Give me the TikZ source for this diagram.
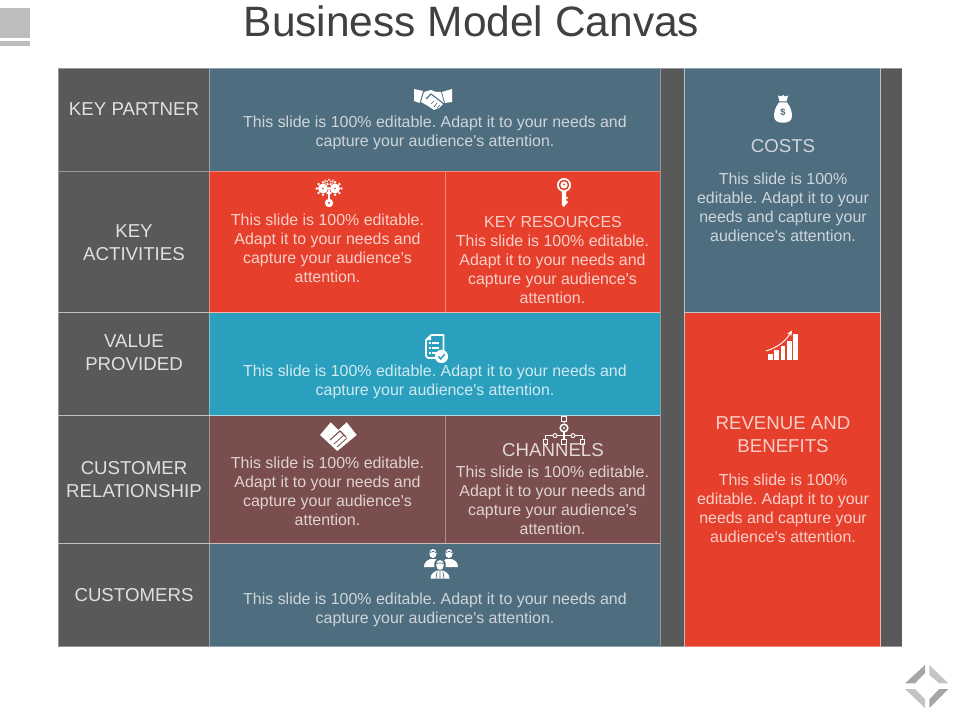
\documentclass[tikz,border=0pt]{standalone}
\usepackage{fontspec}
\setmainfont{Liberation Sans}
\newfontfamily\bodyf{Liberation Sans}
\usetikzlibrary{arrows.meta}
\definecolor{darkc}{HTML}{595959}
\definecolor{slatec}{HTML}{4E6D7E}
\definecolor{redc}{HTML}{E6402C}
\definecolor{tealc}{HTML}{2AA0BE}
\definecolor{brownc}{HTML}{7A4E4D}
\definecolor{titlec}{HTML}{404040}
\tikzset{
  cellbox/.style={draw=white,draw opacity=0.38,line width=0.75pt,inner sep=0pt,outer sep=0pt,anchor=north west},
  txtnode/.style={inner sep=0pt,outer sep=0pt,align=center,font=\bodyf\frenchspacing\fontsize{11.95}{14.3}\selectfont},
  headnode/.style={inner sep=0pt,outer sep=0pt,align=center,font=\bodyf\fontsize{14}{17.25}\selectfont},
  lblnode/.style={headnode,text=white!88!black},
  onslate/.style={text=white!72!slatec},
  onred/.style={text=white!75!redc},
  onteal/.style={text=white!78!tealc},
  onbrown/.style={text=white!75!brownc},
  ico/.style={fill=white,draw=none},
}
\newcommand{\cellat}[6]{\node[cellbox,fill=#6,minimum width=#4*0.75pt,minimum height=#5*0.75pt] (#1) at (#2,{#3+0.5}) {};}
\begin{document}
\begin{tikzpicture}[x=0.75pt,y=-0.75pt]
\useasboundingbox (0,0) rectangle (960,720);
\fill[white] (0,0) rectangle (960,720);
% top-left ornament
\fill[black!26] (0,8) rectangle (30,38);
\fill[black!26] (0,41) rectangle (30,46);
% title
\node[inner sep=0pt,text=titlec,font=\bodyf\fontsize{31.85}{38}\selectfont] (title) at (471.5,21) {Business Model Canvas};
% grid
\cellat{lbl1}{58}{68}{151}{103}{darkc}
\cellat{lbl2}{58}{171}{151}{141}{darkc}
\cellat{lbl3}{58}{312}{151}{103}{darkc}
\cellat{lbl4}{58}{415}{151}{128}{darkc}
\cellat{lbl5}{58}{543}{151}{103}{darkc}
\cellat{partner}{209}{68}{451}{103}{slatec}
\cellat{activ}{209}{171}{236}{141}{redc}
\cellat{resou}{445}{171}{215}{141}{redc}
\cellat{value}{209}{312}{451}{103}{tealc}
\cellat{relat}{209}{415}{236}{128}{brownc}
\cellat{chann}{445}{415}{215}{128}{brownc}
\cellat{custo}{209}{543}{451}{103}{slatec}
\cellat{gap1}{660}{68}{24.5}{578}{darkc}
\cellat{costs}{684.5}{68}{196}{244}{slatec}
\cellat{reven}{684.5}{312}{196}{334}{redc}
\cellat{gap2}{880.5}{68}{21.5}{578}{darkc}
% left labels
\node[lblnode] (t1) at (134,109.5) {KEY PARTNER};
\node[lblnode] (t2) at (134,243) {KEY\\ACTIVITIES};
\node[lblnode] (t3) at (134,353) {VALUE\\PROVIDED};
\node[lblnode] (t4) at (134,480) {CUSTOMER\\RELATIONSHIP};
\node[lblnode] (t5) at (134,595.5) {CUSTOMERS};
% body text
\def\wide{This slide is 100\% editable. Adapt it to your needs and\\capture your audience's attention.}
\def\four{This slide is 100\% editable.\\Adapt it to your needs and\\capture your audience's\\attention.}
\def\side{This slide is 100\%\\editable. Adapt it to your\\needs and capture your\\audience's attention.}
\node[txtnode,onslate] (b1) at (435,133.3) {\wide};
\node[txtnode,onred] (b2) at (327.5,248.3) {\four};
\node[headnode,onred,font=\bodyf\fontsize{12}{14.4}\selectfont] (h3) at (553,222) {KEY RESOURCES};
\node[txtnode,onred] (b3) at (552.5,269.3) {\four};
\node[txtnode,onteal] (b4) at (435,382) {\wide};
\node[txtnode,onbrown] (b5) at (327.5,491.3) {\four};
\node[txtnode,onbrown] (b6) at (552.5,500.3) {\four};
\node[txtnode,onslate] (b7) at (435,610.3) {\wide};
\node[headnode,onslate] (h8) at (783,146.5) {COSTS};
\node[txtnode,onslate] (b8) at (783,207.3) {\side};
\node[headnode,onred] (h9) at (783,435) {REVENUE AND\\BENEFITS};
\node[txtnode,onred] (b9) at (783,508.3) {\side};
% handshake
\fill[ico] (414,89) -- (423,91) -- (419.5,103) -- (414,101) -- cycle;
\fill[ico] (452,89) -- (442,92) -- (445,103) -- (452,102) -- cycle;
\fill[ico] (424,92) -- (431,90) -- (436,92) -- (441,92) -- (444,103) -- (439,108) -- (434,110) -- (428,106) -- (421,102) -- cycle;
\draw[slatec,line width=0.8pt] (426,99) -- (431,94) -- (435,97) -- (444,104);
\draw[slatec,line width=0.5pt] (431,104) -- (434,101) (434,107) -- (437,103) (437,108) -- (440,105);
% gear key
\foreach \gx in {323,335}{
  \fill[ico] (\gx,188.5) circle (5);
  \foreach \a in {0,45,...,315} \fill[ico] (\gx,188.5) ++(\a:6.3) circle (1.3);
  \fill[redc] (\gx,188.5) circle (0.8);
}
\draw[white,line width=0.5pt] (325,184) -- (325,180) -- (327,182) -- (329,179) -- (331,182) -- (333,180) -- (333,184);
\fill[ico] (327.6,190) rectangle (330.4,200);
\fill[ico] (329,203) circle (4.2);
\fill[redc] (329,203) circle (1.2);
% key
\fill[ico] (564,185) circle (7);
\fill[redc] (564,185) circle (5.3);
\fill[ico] (564,185) circle (3.6);
\fill[redc] (564,184.5) circle (1);
\fill[ico] (561.8,191) -- (566.2,191) -- (566.2,197) -- (567.6,197) -- (567.6,199) -- (566.2,199) -- (566.2,201) -- (567.6,201) -- (567.6,203) -- (566.2,204) -- (564,207) -- (561.8,205) -- cycle;
% clipboard
\draw[white,line width=1.2pt,line join=round] (431,335) -- (443.5,335) -- (443.5,351) (436,358) -- (428,358) -- (426,356) -- (426,340) -- (431,335);
\fill[ico] (431,335) -- (431,340) -- (426,340) -- cycle;
\foreach \ly in {343,348,353}{
  \fill[ico] (429,\ly-0.6) rectangle (430.5,\ly+0.6);
  \fill[ico] (432,\ly-0.6) rectangle (439,\ly+0.6);
}
\fill[ico] (441.5,356.5) circle (6.6);
\draw[tealc,line width=1.1pt] (438.5,356.5) -- (440.8,359) -- (444.6,354.2);
% heart handshake
\fill[ico] (320,435) -- (330.7,422.3) -- (338.3,430) -- (346.7,422.3) -- (356.7,435) -- (337.3,451) -- cycle;
\draw[brownc,line width=0.8pt] (330,440) -- (340,431) -- (346,437);
\draw[brownc,line width=0.6pt] (337,447) -- (347,438) (334,444) -- (344,435);
% org chart
\begin{scope}[white,line width=0.7pt]
\draw (561.5,416.5) rectangle (566.5,421);
\draw (564,421) -- (564,423);
\draw[line width=1.2pt] (564,428) circle (3.8);
\fill[white] (564,428) circle (1.2);
\draw[line width=1.2pt] (564,432) -- (564,439);
\draw[line width=1.2pt] (559,435.6) -- (569,435.6);
\draw (545.5,439) -- (545.5,435.6) -- (553,435.6) (557,435.6) -- (559,435.6) (569,435.6) -- (571,435.6) (575,435.6) -- (582.5,435.6) -- (582.5,439);
\draw (555,435.6) circle (2);
\draw (573,435.6) circle (2);
\draw (543.2,439) rectangle (547.8,444);
\draw (561.7,439) rectangle (566.3,444);
\draw (580.2,439) rectangle (584.8,444);
\end{scope}
% people
\foreach \px/\py in {433/553.5,449/553.5}{
  \fill[ico] (\px,\py) ellipse (3.6 and 4.6);
  \fill[ico] (\px-9,\py+13.5) .. controls (\px-9,\py+8) and (\px-5,\py+6.5) .. (\px-2.5,\py+5.5) -- (\px+2.5,\py+5.5) .. controls (\px+5,\py+6.5) and (\px+9,\py+8) .. (\px+9,\py+13.5) -- cycle;
  \draw[slatec,line width=0.5pt] (\px-3,\py-1) .. controls (\px-1,\py-2.5) and (\px+1,\py-2.5) .. (\px+3,\py-1);
}
\fill[slatec] (440,565) ellipse (5.8 and 7);
\fill[slatec] (428.5,579) .. controls (428.5,572) and (434,570.5) .. (437,569) -- (443,569) .. controls (446,570.5) and (451.5,572) .. (451.5,579) -- cycle;
\fill[ico] (440,565) ellipse (3.8 and 5);
\fill[ico] (430.5,578.5) .. controls (430.5,573) and (435,571.5) .. (437.5,570.5) -- (442.5,570.5) .. controls (445,571.5) and (449.5,573) .. (449.5,578.5) -- cycle;
\draw[slatec,line width=0.5pt] (440,571) -- (440,578.5) (437,572) -- (436,578.5) (443,572) -- (444,578.5);
\draw[slatec,line width=0.5pt] (437,564) .. controls (438,562.5) and (442,562.5) .. (443,564);
% money bag
\fill[ico] (778,95.5) -- (781,96.5) -- (783,95) -- (785,96.5) -- (788,95.5) -- (786.5,101.5) -- (779.5,101.5) -- cycle;
\fill[ico] (779,102.5) .. controls (775,107) and (774,113) .. (774,116) .. controls (774,121) and (778,122.7) .. (783,122.7) .. controls (788,122.7) and (792,121) .. (792,116) .. controls (792,113) and (791,107) .. (787,102.5) -- cycle;
\node[inner sep=0pt,text=slatec,font=\bodyf\fontsize{7}{7}\bfseries\selectfont] (dollar) at (783,112.5) {\$};
% growth chart
\foreach \bx/\bt/\bw in {768/353.5/4.5,774.3/350/4.5,780.6/346/4.5,787/341/4.5,793/334/5}{
  \fill[ico] (\bx,\bt) rectangle (\bx+\bw,360);
}
\draw[white,line width=0.7pt,-{Stealth[length=4pt,width=3.5pt]}] (766,351) .. controls (777,347.5) and (785,342) .. (792,330.5);
% CHANNELS sits over the org chart
\node[headnode,text=white!78!brownc] (h6) at (553,450.5) {CHANNELS};
% bottom-right ornament
\fill[black!35] (905,683.3) -- (925,665) -- (925,673) -- (915,683.3) -- cycle;
\fill[black!23] (929.3,665) -- (948.3,683.3) -- (939.3,683.3) -- (929.3,675) -- cycle;
\fill[black!23] (905,689) -- (915,689) -- (925,699.3) -- (925,708) -- cycle;
\fill[black!35] (948.3,689) -- (939.3,689) -- (929.3,699.3) -- (929.3,708) -- cycle;
\end{tikzpicture}
\end{document}
